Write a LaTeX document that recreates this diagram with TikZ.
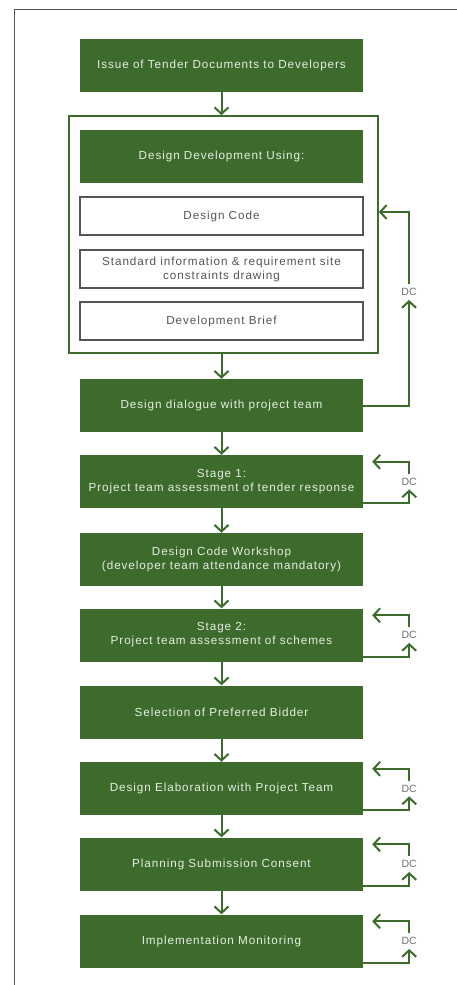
\documentclass[tikz,border=0pt]{standalone}
\usepackage{fontspec}
\setmainfont{Liberation Sans}
\newfontfamily\boxfont[LetterSpace=8]{Liberation Sans}
\usetikzlibrary{arrows.meta, calc}

\definecolor{plangreen}{HTML}{3C6B2B}
\definecolor{plangrey}{HTML}{555555}

\tikzset{
  stagebox/.style={fill=plangreen, text=white!88!plangreen, minimum width=283pt, minimum height=53pt,
    inner sep=0pt, align=center, font={\boxfont\fontsize{11.7}{14}\selectfont}},
  inputbox/.style={draw=plangrey, line width=1.2pt, fill=white, text=plangrey, minimum width=283pt,
    minimum height=38pt, inner sep=0pt, align=center, font={\boxfont\fontsize{11.7}{14}\selectfont}},
  flow/.style={draw=plangreen, line width=2pt, -{Straight Barb[length=6.5pt, width=14pt]}},
  dclabel/.style={text=plangrey!85, font={\fontsize{10.5}{11}\selectfont}, inner xsep=1pt, inner ysep=4pt},
}

\begin{document}
\begin{tikzpicture}[x=1pt, y=-1pt]
    \useasboundingbox (0,0) rectangle (457,985);
    % Page frame
    \draw[plangrey, line width=0.8pt] (14,985) -- (14,9) -- (457,9);

    % --- MAIN COLUMN ---
    \node[stagebox] (issue) at (221.5,65) {Issue of Tender Documents to Developers};
    \node[draw=plangreen, line width=1.6pt, minimum width=309pt, minimum height=237pt] (designgroup) at (223.5,234.5) {};
    \node[stagebox] (using) at (221.5,156.5) {Design Development Using:};
    \node[inputbox] (code) at (221.5,216) {Design Code};
    \node[inputbox] (standard) at (221.5,269) {Standard information \& requirement site\\constraints drawing};
    \node[inputbox] (brief) at (221.5,321) {Development Brief};
    \node[stagebox] (dialogue) at (221.5,405.5) {Design dialogue with project team};
    \node[stagebox] (stage1) at (221.5,481.5) {Stage 1:\\Project team assessment of tender response};
    \node[stagebox] (workshop) at (221.5,559.5) {Design Code Workshop\\(developer team attendance mandatory)};
    \node[stagebox] (stage2) at (221.5,635) {Stage 2:\\Project team assessment of schemes};
    \node[stagebox] (bidder) at (221.5,712) {Selection of Preferred Bidder};
    \node[stagebox] (elaboration) at (221.5,788.5) {Design Elaboration with Project Team};
    \node[stagebox] (planning) at (221.5,864) {Planning Submission Consent};
    \node[stagebox] (monitoring) at (221.5,941) {Implementation Monitoring};

    % Downward flow
    \draw[flow] (issue.south) -- (issue.south |- designgroup.north);
    \draw[flow] (dialogue.north |- designgroup.south) -- (dialogue.north);
    \foreach \a/\b in {dialogue/stage1, stage1/workshop, workshop/stage2, stage2/bidder,
                       bidder/elaboration, elaboration/planning, planning/monitoring}
        \draw[flow] (\a.south) -- (\b.north);

    % DC feedback loops
    \coordinate (dcreturn) at (378,212);
    \node[dclabel] (dialogue-dc) at (409,292) {DC};
    \draw[flow] (dialogue.east) -| (dialogue-dc.south);
    \draw[flow] (dialogue-dc.north) |- (designgroup.east |- dcreturn);
    \foreach \s in {stage1, stage2, elaboration, planning, monitoring} {
        \node[dclabel] (\s-dc) at ($(\s.east)+(46,0)$) {DC};
        \draw[flow] ([yshift=5pt]\s.south east) -| (\s-dc.south);
        \draw[flow] (\s-dc.north) |- ([xshift=9pt, yshift=-7pt]\s.north east);
    }
\end{tikzpicture}
\end{document}
